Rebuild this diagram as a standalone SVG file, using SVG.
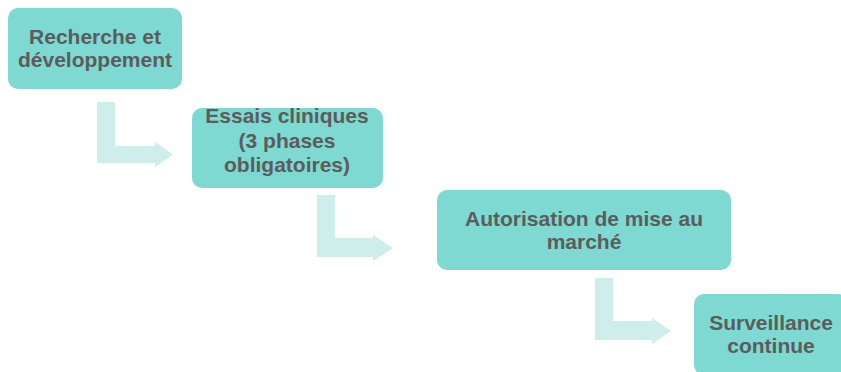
<svg xmlns="http://www.w3.org/2000/svg" width="841" height="372" viewBox="0 0 841 372">
<style>
.box{fill:#7dd9d1;}
.arr{fill:#cdeeea;}
.t{font-family:"Liberation Sans",Arial,sans-serif;font-weight:bold;font-size:21px;fill:#5c5c5c;text-anchor:middle;}
</style>
<rect width="841" height="372" fill="#ffffff"/>
<g id="connectors">
<path class="arr" d="M97,102 H115 V146 H155 V142 L173,154.5 L155,167 V163 H97 Z"/>
<path class="arr" d="M317,195 H335 V238 H373 V235 L393,248 L373,261 V257 H317 Z"/>
<path class="arr" d="M595,278 H613 V321 H652 V318 L671,331 L652,344 V340 H595 Z"/>
</g>
<g id="n1">
<rect class="box" x="8" y="8" width="174" height="81" rx="10"/>
<text class="t" x="95" y="44">Recherche et</text>
<text class="t" x="95" y="66.5">développement</text>
</g>
<g id="n2">
<rect class="box" x="192" y="108" width="191" height="80" rx="10"/>
<text class="t" x="287" y="123">Essais cliniques</text>
<text class="t" x="287" y="148">(3 phases</text>
<text class="t" x="287" y="172">obligatoires)</text>
</g>
<g id="n3">
<rect class="box" x="437" y="190" width="294" height="80" rx="10"/>
<text class="t" x="584" y="226">Autorisation de mise au</text>
<text class="t" x="584" y="248.5">marché</text>
</g>
<g id="n4">
<rect class="box" x="694" y="294" width="154" height="81" rx="10"/>
<text class="t" x="771" y="330">Surveillance</text>
<text class="t" x="771" y="352.5">continue</text>
</g>
</svg>
